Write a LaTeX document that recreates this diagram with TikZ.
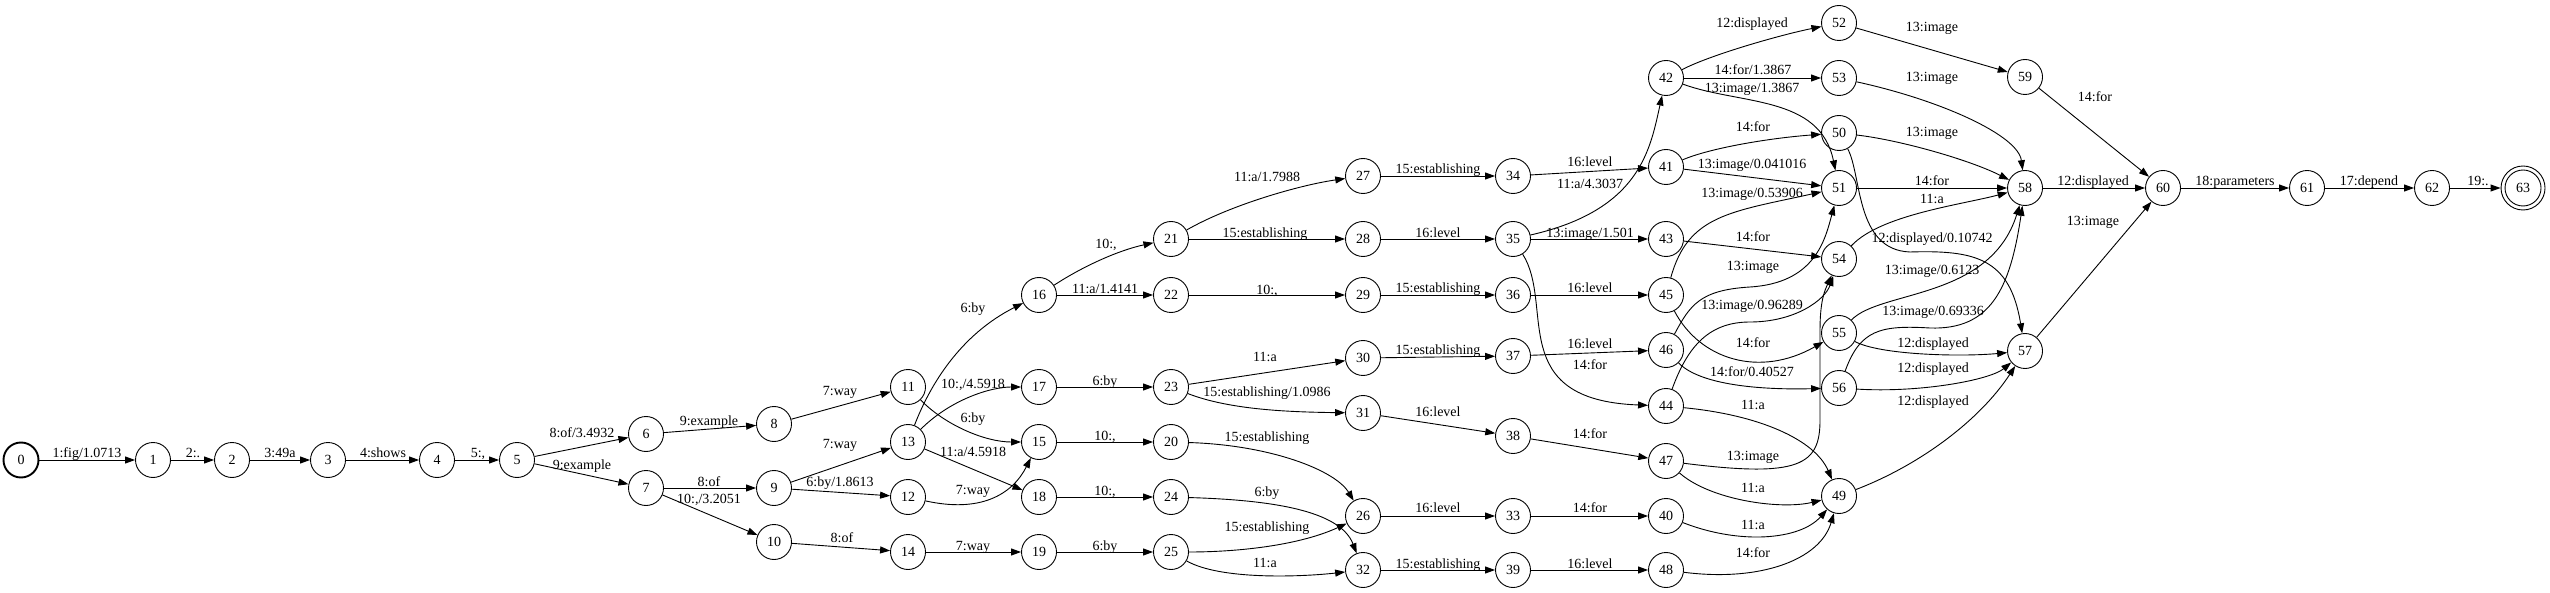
\documentclass[tikz,border=0pt]{standalone}
\usepackage{fontspec}
\setmainfont{Liberation Serif}
\usetikzlibrary{arrows.meta}
\tikzset{
	state/.style={circle, draw, line width=0.9pt, minimum size=35pt, inner sep=0pt, font=\fontsize{14pt}{16pt}\selectfont},
	init/.style={state, line width=1.9pt},
	final/.style={state, minimum size=44pt},
	tr/.style={draw, line width=0.9pt, -{Triangle[length=10pt,width=7pt]}},
	lbl/.style={anchor=base, inner sep=0pt, yshift=-4.7pt, font=\fontsize{14pt}{16pt}\selectfont}
}

\begin{document}
\begin{tikzpicture}[x=1pt, y=-1pt]
			%%%%% START %%%%%
			\useasboundingbox (0,0) rectangle (2550,593);
			
			\node[init] (s0) at (21,460) {0};
			\node[state] (s1) at (153,460) {1};
			\node[state] (s2) at (232,460) {2};
			\node[state] (s3) at (328,460) {3};
			\node[state] (s4) at (437,460) {4};
			\node[state] (s5) at (517,460) {5};
			\node[state] (s6) at (646,434) {6};
			\node[state] (s7) at (646,488) {7};
			\node[state] (s8) at (774,424) {8};
			\node[state] (s9) at (774,488) {9};
			\node[state] (s10) at (774,542) {10};
			\node[state] (s11) at (908,387) {11};
			\node[state] (s12) at (908,497) {12};
			\node[state] (s13) at (908,442) {13};
			\node[state] (s14) at (908,552) {14};
			\node[state] (s15) at (1039,442) {15};
			\node[state] (s16) at (1039,295) {16};
			\node[state] (s17) at (1039,387) {17};
			\node[state] (s18) at (1039,497) {18};
			\node[state] (s19) at (1039,552) {19};
			\node[state] (s20) at (1171,442) {20};
			\node[state] (s21) at (1171,239) {21};
			\node[state] (s22) at (1171,295) {22};
			\node[state] (s23) at (1171,387) {23};
			\node[state] (s24) at (1171,497) {24};
			\node[state] (s25) at (1171,552) {25};
			\node[state] (s26) at (1363,516) {26};
			\node[state] (s27) at (1363,176) {27};
			\node[state] (s28) at (1363,239) {28};
			\node[state] (s29) at (1363,295) {29};
			\node[state] (s30) at (1363,358) {30};
			\node[state] (s31) at (1363,413) {31};
			\node[state] (s32) at (1363,570) {32};
			\node[state] (s33) at (1513,516) {33};
			\node[state] (s34) at (1513,176) {34};
			\node[state] (s35) at (1513,239) {35};
			\node[state] (s36) at (1513,295) {36};
			\node[state] (s37) at (1513,356) {37};
			\node[state] (s38) at (1513,436) {38};
			\node[state] (s39) at (1513,570) {39};
			\node[state] (s40) at (1666,516) {40};
			\node[state] (s41) at (1666,167) {41};
			\node[state] (s42) at (1666,78) {42};
			\node[state] (s43) at (1666,239) {43};
			\node[state] (s44) at (1666,406) {44};
			\node[state] (s45) at (1666,295) {45};
			\node[state] (s46) at (1666,350) {46};
			\node[state] (s47) at (1666,461) {47};
			\node[state] (s48) at (1666,570) {48};
			\node[state] (s49) at (1839,496) {49};
			\node[state] (s50) at (1839,133) {50};
			\node[state] (s51) at (1839,188) {51};
			\node[state] (s52) at (1839,23) {52};
			\node[state] (s53) at (1839,78) {53};
			\node[state] (s54) at (1839,259) {54};
			\node[state] (s55) at (1839,333) {55};
			\node[state] (s56) at (1839,388) {56};
			\node[state] (s57) at (2025,351) {57};
			\node[state] (s58) at (2025,188) {58};
			\node[state] (s59) at (2025,77) {59};
			\node[state] (s60) at (2163,188) {60};
			\node[state] (s61) at (2307,188) {61};
			\node[state] (s62) at (2432,188) {62};
			\node[final] (s63) at (2523,188) {63};
			\draw[line width=0.9pt] (s63.center) circle[radius=18pt];
			
			\draw[tr] (s0) -- (s1) node[lbl] at (87,453) {1:fig/1.0713};
			\draw[tr] (s1) -- (s2) node[lbl] at (193,453) {2:.};
			\draw[tr] (s2) -- (s3) node[lbl] at (280,453) {3:49a};
			\draw[tr] (s3) -- (s4) node[lbl] at (383,453) {4:shows};
			\draw[tr] (s4) -- (s5) node[lbl] at (478,453) {5:,};
			\draw[tr] (s5) -- (s6) node[lbl] at (582,433) {8:of/3.4932};
			\draw[tr] (s5) -- (s7) node[lbl] at (582,465) {9:example};
			\draw[tr] (s6) -- (s8) node[lbl] at (709,421) {9:example};
			\draw[tr] (s7) -- (s9) node[lbl] at (709,482) {8:of};
			\draw[tr] (s7) -- (s10) node[lbl] at (709,499) {10:,/3.2051};
			\draw[tr] (s8) -- (s11) node[lbl] at (840,391) {7:way};
			\draw[tr] (s9) -- (s13) node[lbl] at (840,444) {7:way};
			\draw[tr] (s9) -- (s12) node[lbl] at (840,482) {6:by/1.8613};
			\draw[tr] (s10) -- (s14) node[lbl] at (842,538) {8:of};
			
			\draw[tr] (s11) .. controls (945,425) and (985,442) .. (s15) node[lbl] at (973,418) {6:by};
			\draw[tr] (s13) .. controls (930,385) and (960,335) .. (s16) node[lbl] at (973,308) {6:by};
			\draw[tr] (s13) .. controls (950,400) and (990,387) .. (s17) node[lbl] at (973,384) {10:,/4.5918};
			\draw[tr] (s13) -- (s18) node[lbl] at (973,452) {11:a/4.5918};
			\draw[tr] (s12) .. controls (980,513) and (1012,495) .. (s15) node[lbl] at (973,490) {7:way};
			\draw[tr] (s14) -- (s19) node[lbl] at (973,546) {7:way};
			
			\draw[tr] (s16) .. controls (1085,265) and (1120,250) .. (s21) node[lbl] at (1106,244) {10:,};
			\draw[tr] (s16) -- (s22) node[lbl] at (1105,289) {11:a/1.4141};
			\draw[tr] (s17) -- (s23) node[lbl] at (1105,381) {6:by};
			\draw[tr] (s15) -- (s20) node[lbl] at (1105,436) {10:,};
			\draw[tr] (s18) -- (s24) node[lbl] at (1105,491) {10:,};
			\draw[tr] (s19) -- (s25) node[lbl] at (1105,546) {6:by};
			
			\draw[tr] (s21) .. controls (1230,205) and (1300,185) .. (s27) node[lbl] at (1267,177) {11:a/1.7988};
			\draw[tr] (s21) -- (s28) node[lbl] at (1265,233) {15:establishing};
			\draw[tr] (s22) -- (s29) node[lbl] at (1267,290) {10:,};
			\draw[tr] (s23) -- (s30) node[lbl] at (1265,357) {11:a};
			\draw[tr] (s23) .. controls (1230,410) and (1290,412) .. (s31) node[lbl] at (1267,392) {15:establishing/1.0986};
			\draw[tr] (s20) .. controls (1270,445) and (1335,470) .. (s26) node[lbl] at (1267,437) {15:establishing};
			\draw[tr] (s24) .. controls (1270,500) and (1340,510) .. (s32) node[lbl] at (1267,492) {6:by};
			\draw[tr] (s25) .. controls (1240,552) and (1300,545) .. (s26) node[lbl] at (1267,527) {15:establishing};
			\draw[tr] (s25) .. controls (1220,580) and (1300,577) .. (s32) node[lbl] at (1265,563) {11:a};
			
			\draw[tr] (s27) -- (s34) node[lbl] at (1438,169) {15:establishing};
			\draw[tr] (s28) -- (s35) node[lbl] at (1438,233) {16:level};
			\draw[tr] (s29) -- (s36) node[lbl] at (1438,288) {15:establishing};
			\draw[tr] (s30) -- (s37) node[lbl] at (1438,350) {15:establishing};
			\draw[tr] (s31) -- (s38) node[lbl] at (1438,412) {16:level};
			\draw[tr] (s26) -- (s33) node[lbl] at (1438,508) {16:level};
			\draw[tr] (s32) -- (s39) node[lbl] at (1438,564) {15:establishing};
			
			\draw[tr] (s34) -- (s41) node[lbl] at (1590,162) {16:level};
			\draw[tr] (s35) .. controls (1640,210) and (1650,150) .. (s42) node[lbl] at (1590,184) {11:a/4.3037};
			\draw[tr] (s35) -- (s43) node[lbl] at (1590,233) {13:image/1.501};
			\draw[tr] (s35) .. controls (1555,305) and (1505,400) .. (s44) node[lbl] at (1590,365) {14:for};
			\draw[tr] (s36) -- (s45) node[lbl] at (1590,288) {16:level};
			\draw[tr] (s37) -- (s46) node[lbl] at (1590,344) {16:level};
			\draw[tr] (s38) -- (s47) node[lbl] at (1590,434) {14:for};
			\draw[tr] (s33) -- (s40) node[lbl] at (1590,508) {14:for};
			\draw[tr] (s39) -- (s48) node[lbl] at (1590,564) {16:level};
			
			\draw[tr] (s42) .. controls (1710,55) and (1780,35) .. (s52) node[lbl] at (1752,23) {12:displayed};
			\draw[tr] (s42) -- (s53) node[lbl] at (1753,70) {14:for/1.3867};
			\draw[tr] (s42) .. controls (1740,105) and (1820,95) .. (s51) node[lbl] at (1752,88) {13:image/1.3867};
			\draw[tr] (s41) .. controls (1710,148) and (1770,138) .. (s50) node[lbl] at (1753,127) {14:for};
			\draw[tr] (s41) -- (s51) node[lbl] at (1752,164) {13:image/0.041016};
			\draw[tr] (s45) .. controls (1688,215) and (1730,212) .. (s51) node[lbl] at (1752,193) {13:image/0.53906};
			\draw[tr] (s43) -- (s54) node[lbl] at (1753,237) {14:for};
			\draw[tr] (s46) .. controls (1690,305) and (1700,290) .. (1750,287) .. controls (1815,283) and (1825,240) .. (s51) node[lbl] at (1753,266) {13:image};
			\draw[tr] (s44) .. controls (1688,345) and (1710,322) .. (1750,322) .. controls (1795,322) and (1825,300) .. (s54) node[lbl] at (1752,305) {13:image/0.96289};
			\draw[tr] (s45) .. controls (1700,360) and (1760,378) .. (s55) node[lbl] at (1753,343) {14:for};
			\draw[tr] (s46) .. controls (1700,385) and (1760,390) .. (s56) node[lbl] at (1752,372) {14:for/0.40527};
			\draw[tr] (s44) .. controls (1760,415) and (1815,440) .. (s49) node[lbl] at (1753,405) {11:a};
			\draw[tr] (s47) .. controls (1800,478) and (1820,465) .. (1820,420) -- (1820,330) .. controls (1820,300) and (1825,290) .. (s54) node[lbl] at (1753,456) {13:image};
			\draw[tr] (s47) .. controls (1710,500) and (1780,510) .. (s49) node[lbl] at (1753,488) {11:a};
			\draw[tr] (s40) .. controls (1740,545) and (1800,540) .. (s49) node[lbl] at (1753,525) {11:a};
			\draw[tr] (s48) .. controls (1760,582) and (1820,560) .. (s49) node[lbl] at (1753,553) {14:for};
			
			\draw[tr] (s52) -- (s59) node[lbl] at (1932,27) {13:image};
			\draw[tr] (s53) .. controls (1940,100) and (2018,135) .. (s58) node[lbl] at (1932,77) {13:image};
			\draw[tr] (s50) .. controls (1900,140) and (1970,160) .. (s58) node[lbl] at (1932,132) {13:image};
			\draw[tr] (s51) -- (s58) node[lbl] at (1932,181) {14:for};
			\draw[tr] (s54) .. controls (1880,215) and (1960,205) .. (s58) node[lbl] at (1932,199) {11:a};
			\draw[tr] (s50) .. controls (1862,175) and (1855,250) .. (1910,252) .. controls (1975,250) and (2010,258) .. (s57) node[lbl] at (1932,238) {12:displayed/0.10742};
			\draw[tr] (s55) .. controls (1880,290) and (1990,300) .. (s58) node[lbl] at (1932,270) {13:image/0.6123};
			\draw[tr] (s56) .. controls (1860,330) and (1880,325) .. (1930,328) .. controls (1990,330) and (2010,290) .. (s58) node[lbl] at (1933,311) {13:image/0.69336};
			\draw[tr] (s55) .. controls (1880,355) and (1960,357) .. (s57) node[lbl] at (1933,343) {12:displayed};
			\draw[tr] (s56) .. controls (1920,393) and (1990,380) .. (s57) node[lbl] at (1933,368) {12:displayed};
			\draw[tr] (s49) .. controls (1920,465) and (1980,420) .. (s57) node[lbl] at (1933,401) {12:displayed};
			
			\draw[tr] (s59) -- (s60) node[lbl] at (2095,97) {14:for};
			\draw[tr] (s58) -- (s60) node[lbl] at (2093,181) {12:displayed};
			\draw[tr] (s57) -- (s60) node[lbl] at (2093,221) {13:image};
			\draw[tr] (s60) -- (s61) node[lbl] at (2235,181) {18:parameters};
			\draw[tr] (s61) -- (s62) node[lbl] at (2369,181) {17:depend};
			\draw[tr] (s62) -- (s63) node[lbl] at (2478,181) {19:.};
			
			%%%%% END %%%%%
\end{tikzpicture}
\end{document}
